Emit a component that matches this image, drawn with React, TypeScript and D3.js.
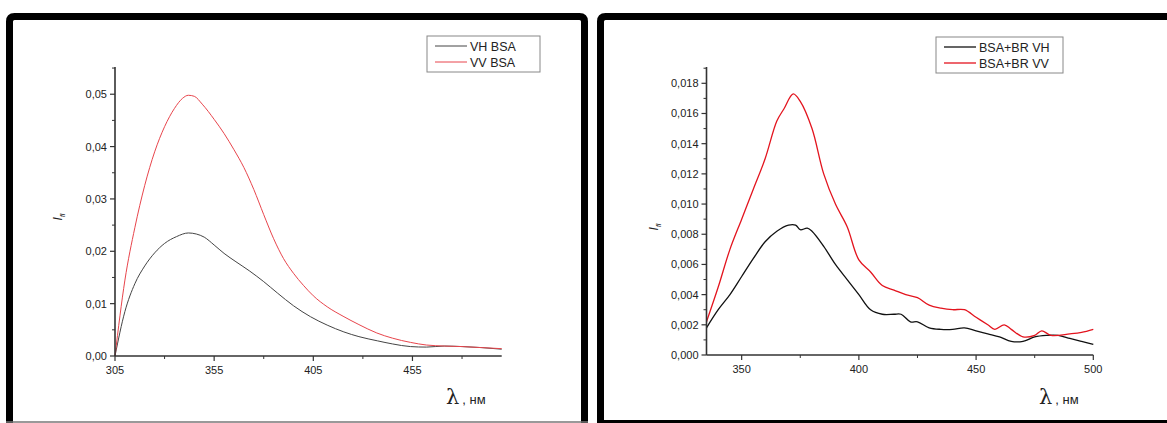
import React from "react";
import * as d3 from "d3";

// ---------- Data ----------
const leftVHx = [305, 310, 315, 320, 325, 330, 336, 342, 346, 350, 355, 360, 366, 373, 380, 387, 395, 403.6, 412, 420.4, 428, 437.3, 445, 454, 462, 471, 480, 490, 500];
const leftVHy = [0, 0.0085, 0.0138, 0.0172, 0.0197, 0.0215, 0.0228, 0.0235, 0.0233, 0.0227, 0.0212, 0.0196, 0.018, 0.0162, 0.0142, 0.012, 0.0096, 0.0075, 0.0059, 0.0046, 0.0037, 0.0029, 0.0023, 0.0018, 0.0017, 0.0019, 0.0018, 0.0016, 0.0013];
const leftVVx = [305, 310, 315, 320, 325, 330, 335, 339, 342, 345, 349, 355, 360, 365, 370, 375, 380, 385, 390, 395, 400, 405, 412, 420, 428, 437, 445, 454, 462, 471, 480, 490, 500];
const leftVVy = [0, 0.0145, 0.0245, 0.0326, 0.039, 0.0438, 0.0473, 0.0492, 0.0498, 0.0496, 0.0481, 0.0452, 0.0425, 0.0394, 0.036, 0.0318, 0.027, 0.0224, 0.0186, 0.0158, 0.0135, 0.0115, 0.0094, 0.0076, 0.006, 0.0044, 0.0034, 0.0026, 0.0021, 0.0019, 0.0018, 0.0016, 0.0014];

const rightVHx = [335, 340, 345, 350, 355, 360, 365, 370, 373, 375, 378, 380, 385, 390, 395, 400, 405, 410, 415, 418, 422, 425, 430, 435, 440, 445, 450, 455, 460, 465, 470, 475, 480, 485, 490, 495, 500];
const rightVHy = [0.0018, 0.003, 0.004, 0.0052, 0.0064, 0.0075, 0.0082, 0.0086, 0.0086, 0.0083, 0.0084, 0.0082, 0.0072, 0.006, 0.005, 0.004, 0.003, 0.0027, 0.0027, 0.0027, 0.0022, 0.0022, 0.0018, 0.0017, 0.0017, 0.0018, 0.0016, 0.0014, 0.0012, 0.0009, 0.0009, 0.0012, 0.0013, 0.0013, 0.0011, 0.0009, 0.0007];
const rightVVx = [335, 340, 345, 350, 355, 360, 365, 368, 372, 375, 380, 385, 390, 395, 400, 405, 410, 415, 420, 425, 430, 435, 440, 445, 450, 455, 458, 462, 465, 470, 475, 478, 482, 490, 495, 500];
const rightVVy = [0.0022, 0.0045, 0.007, 0.009, 0.011, 0.013, 0.0155, 0.0163, 0.0173, 0.0168, 0.015, 0.012, 0.01, 0.0085, 0.0063, 0.0055, 0.0046, 0.0043, 0.004, 0.0038, 0.0033, 0.0031, 0.003, 0.003, 0.0025, 0.002, 0.0017, 0.002, 0.0017, 0.0012, 0.0013, 0.0016, 0.0013, 0.0014, 0.0015, 0.0017];

const leftXTicks = [305, 355, 405, 455];
const leftXMinor = [330, 380, 430, 480];
const leftYTicks = [0, 0.01, 0.02, 0.03, 0.04, 0.05];
const rightXTicks = [350, 400, 450, 500];
const rightXMinor = [375, 425, 475];
const rightYTicks = [0, 0.002, 0.004, 0.006, 0.008, 0.01, 0.012, 0.014, 0.016, 0.018];

const leftLegend = ["VH BSA", "VV BSA"];
const rightLegend = ["BSA+BR VH", "BSA+BR VV"];

const FONT = "Arial, 'Liberation Sans', sans-serif";
const AX = "#333";

type PanelProps = {
  x0: number; x1: number; y0: number; y1: number;
  xDomain: [number, number]; yDomain: [number, number];
  xTicks: number[]; xMinor: number[]; yTicks: number[]; yMinorStep: number; yDec: number;
  series: { xs: number[]; ys: number[]; color: string; width: number; curve: any }[];
  legend: string[]; legendBox: { x: number; y: number; w: number; h: number };
  ylab: { x: number; y: number }; xlab: { x: number; y: number };
};

function Panel(p: PanelProps) {
  const xs = d3.scaleLinear().domain(p.xDomain).range([p.x0, p.x1]);
  const ys = d3.scaleLinear().domain(p.yDomain).range([p.y0, p.y1]);
  const fmt = (v: number) => v.toFixed(p.yDec).replace(".", ",");
  const yMinor: number[] = [];
  for (let v = p.yMinorStep; v < p.yDomain[1]; v += p.yMinorStep * 2) yMinor.push(v);
  return (
    <g>
      {p.series.map((s, i) => {
        const line = d3.line<number>().x((_, j) => xs(s.xs[j])).y((d) => ys(d)).curve(s.curve);
        return <path key={i} d={line(s.ys) || ""} fill="none" stroke={s.color} strokeWidth={s.width} />;
      })}
      <line x1={p.x0} x2={p.x0} y1={p.y0} y2={p.y1} stroke={AX} strokeWidth={1.6} />
      <line x1={p.x0} x2={p.x1} y1={p.y0} y2={p.y0} stroke={AX} strokeWidth={1.6} />
      {p.yTicks.map((t) => (
        <g key={"y" + t}>
          <line x1={p.x0 - 5} x2={p.x0} y1={ys(t)} y2={ys(t)} stroke={AX} strokeWidth={1.2} />
          <text x={p.x0 - 8} y={ys(t) + 4} textAnchor="end" fontSize={11} fill="#222" fontFamily={FONT}>{fmt(t)}</text>
        </g>
      ))}
      {yMinor.map((t) => (
        <line key={"ym" + t} x1={p.x0 - 3} x2={p.x0} y1={ys(t)} y2={ys(t)} stroke={AX} strokeWidth={1} />
      ))}
      {p.xTicks.map((t) => (
        <g key={"x" + t}>
          <line x1={xs(t)} x2={xs(t)} y1={p.y0} y2={p.y0 + 5} stroke={AX} strokeWidth={1.2} />
          <text x={xs(t)} y={p.y0 + 18} textAnchor="middle" fontSize={11} fill="#222" fontFamily={FONT}>{t}</text>
        </g>
      ))}
      {p.xMinor.map((t) => (
        <line key={"xm" + t} x1={xs(t)} x2={xs(t)} y1={p.y0} y2={p.y0 + 3} stroke={AX} strokeWidth={1} />
      ))}
      <rect x={p.legendBox.x} y={p.legendBox.y} width={p.legendBox.w} height={p.legendBox.h} fill="white" stroke="#888" strokeWidth={1} />
      {p.legend.map((name, i) => {
        const cy = p.legendBox.y + 10 + i * 16;
        return (
          <g key={name}>
            <line x1={p.legendBox.x + 8} x2={p.legendBox.x + 40} y1={cy} y2={cy} stroke={p.series[i].color} strokeWidth={p.series[i].width} />
            <text x={p.legendBox.x + 43} y={cy + 4.5} fontSize={12.5} fill="#222" fontFamily={FONT}>{name}</text>
          </g>
        );
      })}
      <text transform={`translate(${p.ylab.x},${p.ylab.y}) rotate(-90)`} textAnchor="middle" fontSize={12} fill="#222" fontFamily={FONT}>
        <tspan fontStyle="italic">I</tspan>
        <tspan fontStyle="italic" fontSize={7} dy={3}>fl</tspan>
      </text>
      <text x={p.xlab.x} y={p.xlab.y} fontFamily="'DejaVu Serif', serif" fill="#222">
        <tspan fontSize={21}>λ</tspan>
        <tspan fontSize={13} fontFamily={FONT} dx={3}>, нм</tspan>
      </text>
    </g>
  );
}

export default function App() {
  return (
    <svg width={1167} height={423} style={{ position: "absolute", left: 0, top: 0, background: "white" }}>
      {/* panel frames */}
      <path d="M 9.5 430 L 9.5 21.5 Q 9.5 16.5 14.5 16.5 L 579.5 16.5 Q 584.5 16.5 584.5 21.5 L 584.5 430" fill="none" stroke="black" strokeWidth={7} />
      <line x1={6} x2={588} y1={422} y2={422} stroke="#777" strokeWidth={1.5} />
      <path d="M 600.5 421.5 L 600.5 21.5 Q 600.5 16.5 605.5 16.5 L 1175 16.5" fill="none" stroke="black" strokeWidth={7} />
      <line x1={597} x2={1167} y1={421.5} y2={421.5} stroke="black" strokeWidth={3} />

      <Panel
        x0={115} x1={501.7} y0={356} y1={67}
        xDomain={[305, 500]} yDomain={[0, 0.0552]}
        xTicks={leftXTicks} xMinor={leftXMinor} yTicks={leftYTicks} yMinorStep={0.005} yDec={2}
        series={[
          { xs: leftVHx, ys: leftVHy, color: "#444", width: 1, curve: d3.curveMonotoneX },
          { xs: leftVVx, ys: leftVVy, color: "#e8454c", width: 1, curve: d3.curveMonotoneX },
        ]}
        legend={leftLegend} legendBox={{ x: 427, y: 36, w: 113, h: 36 }}
        ylab={{ x: 62, y: 217 }} xlab={{ x: 446, y: 404 }}
      />
      <Panel
        x0={706.5} x1={1093.3} y0={355} y1={67}
        xDomain={[335, 500]} yDomain={[0, 0.01908]}
        xTicks={rightXTicks} xMinor={rightXMinor} yTicks={rightYTicks} yMinorStep={0.001} yDec={3}
        series={[
          { xs: rightVHx, ys: rightVHy, color: "#111", width: 1.3, curve: d3.curveCatmullRom },
          { xs: rightVVx, ys: rightVVy, color: "#e3141e", width: 1.3, curve: d3.curveCatmullRom },
        ]}
        legend={rightLegend} legendBox={{ x: 936, y: 37, w: 127, h: 36 }}
        ylab={{ x: 658, y: 227 }} xlab={{ x: 1039, y: 404 }}
      />
    </svg>
  );
}
